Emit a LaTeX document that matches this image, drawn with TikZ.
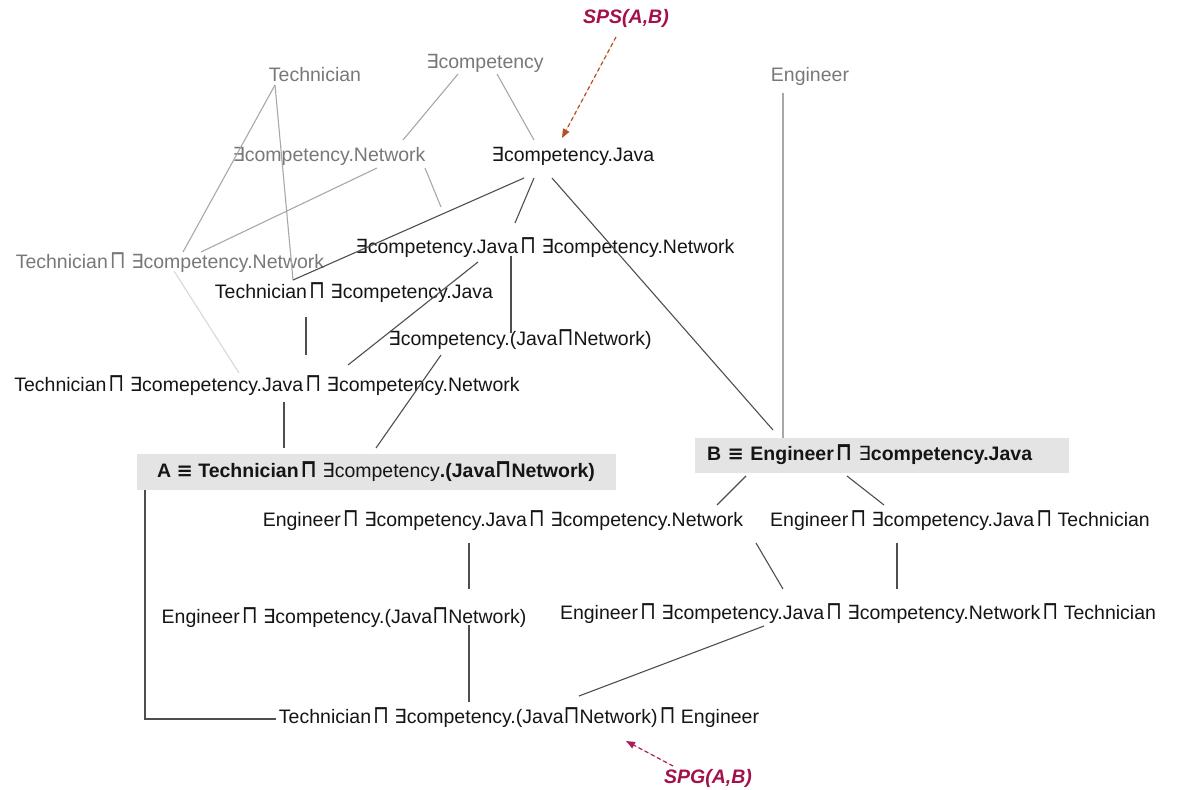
\documentclass[tikz,border=0pt]{standalone}
\usepackage{fontspec}
\usepackage{graphicx}
\setmainfont{Liberation Sans}
\newfontfamily\symf{DejaVu Sans}
\usetikzlibrary{arrows.meta}
\newcommand\Ex{{\symf\mdseries ∃}}
\newcommand\Sq{\raisebox{0pt}{\scalebox{1.05}[1.3]{\symf ⊓}}}
\newcommand\Sqs{\kern2pt\Sq\ }
\newcommand\Eqv{{\symf ≡}}
\definecolor{tgray}{HTML}{787878}
\definecolor{tdark}{HTML}{151515}
\definecolor{lgray}{HTML}{A8A8A8}
\definecolor{llight}{HTML}{D8D8D8}
\definecolor{ldark}{HTML}{4E4E4E}
\definecolor{boxfill}{HTML}{E4E4E4}
\definecolor{spcol}{HTML}{A3104A}
\definecolor{spsarrow}{HTML}{B4501C}
\definecolor{spgarrow}{HTML}{A8205A}
\tikzset{
  lbl/.style={inner sep=0pt, text height=12pt, text depth=0pt, font=\fontsize{19.5}{22}\selectfont},
  gtext/.style={lbl, text=tgray},
  dtext/.style={lbl, text=tdark},
  sptext/.style={lbl, text=spcol, font=\fontsize{19.5}{22}\selectfont\bfseries\itshape},
  defbox/.style={fill=boxfill, inner sep=0pt, text=tdark, font=\fontsize{19.5}{22}\selectfont},
  ge/.style={draw=lgray, line width=1.1pt},
  le/.style={draw=llight, line width=1.1pt},
  de/.style={draw=ldark, line width=1.1pt},
  sparrow/.style={dashed, dash pattern=on 4pt off 3pt, line width=1.2pt, -{Triangle[length=9pt,width=7pt]}}
}
\begin{document}
\begin{tikzpicture}[x=1pt,y=-1pt]
\useasboundingbox (0,0) rectangle (1181,790);
% nodes
\node[sptext] (sps) at (626,17) {SPS(A,B)};
\node[gtext] (tech) at (315,75) {Technician};
\node[gtext] (comp) at (485,62) {\Ex competency};
\node[gtext] (eng) at (810,75) {Engineer};
\node[gtext] (cnet) at (329,155) {\Ex competency.Network};
\node[dtext] (cjava) at (573,155) {\Ex competency.Java};
\node[dtext] (jn) at (545,247) {\Ex competency.Java\Sqs\Ex competency.Network};
\node[gtext] (tnet) at (170,262) {Technician\Sqs\Ex competency.Network};
\node[dtext] (tjava) at (354,292) {Technician\Sqs\Ex competency.Java};
\node[dtext] (cjn) at (520,339) {\Ex competency.(Java\Sq Network)};
\node[dtext] (tjn) at (267,385) {Technician\Sqs\Ex comepetency.Java\Sqs\Ex competency.Network};
\node[defbox, minimum width=479pt, minimum height=36pt] (A) at (376,472)
  {{\bfseries A \Eqv{} Technician\Sqs}\Ex competency{\bfseries.(Java\Sq Network)}};
\node[defbox, minimum width=374pt, minimum height=35pt, text width=350pt, align=left] (B) at (882,455)
  {\bfseries B \Eqv{} Engineer\Sqs\Ex competency.Java};
\node[dtext] (ejn) at (503,520) {Engineer\Sqs\Ex competency.Java\Sqs\Ex competency.Network};
\node[dtext] (ejt) at (960,520) {Engineer\Sqs\Ex competency.Java\Sqs Technician};
\node[dtext] (ecjn) at (344,617) {Engineer\Sqs\Ex competency.(Java\Sq Network)};
\node[dtext] (ejnt) at (858,613) {Engineer\Sqs\Ex competency.Java\Sqs\Ex competency.Network\Sqs Technician};
\node[dtext] (final) at (519,717) {Technician\Sqs\Ex competency.(Java\Sq Network)\Sqs Engineer};
\node[sptext] (spg) at (708,777) {SPG(A,B)};
% connectors
\draw[ge] ([shift={(-40,10)}]tech.center) -- ([shift={(13,-10)}]tnet.center);
\draw[ge] ([shift={(-40,10)}]tech.center) -- ([shift={(-61,-12)}]tjava.center);
\draw[ge] ([shift={(-27,12)}]comp.center) -- ([shift={(74,-15)}]cnet.center);
\draw[ge] ([shift={(12,12)}]comp.center) -- ([shift={(-39,-15)}]cjava.center);
\draw[ge] ([shift={(48,13)}]cnet.center) -- ([shift={(31,-10)}]tnet.center);
\draw[ge] ([shift={(96,13)}]cnet.center) -- ([shift={(-104,-40)}]jn.center);
\draw[de] ([shift={(-49,23)}]cjava.center) -- ([shift={(-61,-12)}]tjava.center);
\draw[de] ([shift={(-39,23)}]cjava.center) -- ([shift={(-30,-24)}]jn.center);
\draw[de] ([shift={(-21,23)}]cjava.center) -- ([shift={(-109,-25)}]B.center);
\draw[ge] ([shift={(-27,18)}]eng.center) -- ([shift={(-99,-17)}]B.center);
\draw[le] ([shift={(4,9)}]tnet.center) -- ([shift={(-28,-12)}]tjn.center);
\draw[de] ([shift={(-48,25)}]tjava.center) -- ([shift={(39,-30)}]tjn.center);
\draw[de] ([shift={(-67,15)}]jn.center) -- ([shift={(81,-20)}]tjn.center);
\draw[de] ([shift={(-34,9)}]jn.center) -- ([shift={(-9,-6)}]cjn.center);
\draw[de] ([shift={(-79,16)}]cjn.center) -- ([shift={(0,-24)}]A.center);
\draw[de] ([shift={(17,17)}]tjn.center) -- ([shift={(-92,-24)}]A.center);
\draw[de] ([shift={(-231,18)}]A.center) |- ([shift={(-243,2)}]final.center);
\draw[de] ([shift={(-136,21)}]B.center) -- ([shift={(214,-15)}]ejn.center);
\draw[de] ([shift={(-35,21)}]B.center) -- ([shift={(-76,-15)}]ejt.center);
\draw[de] ([shift={(-34,23)}]ejn.center) -- ([shift={(125,-28)}]ecjn.center);
\draw[de] ([shift={(125,8)}]ecjn.center) -- ([shift={(-50,-15)}]final.center);
\draw[de] ([shift={(253,23)}]ejn.center) -- ([shift={(-75,-24)}]ejnt.center);
\draw[de] ([shift={(-63,23)}]ejt.center) -- ([shift={(39,-24)}]ejnt.center);
\draw[de] ([shift={(-94,13)}]ejnt.center) -- ([shift={(60,-21)}]final.center);
\draw[sparrow, draw=spsarrow, fill=spsarrow] ([shift={(-10,20)}]sps.center) -- ([shift={(-11,-17)}]cjava.center);
\draw[sparrow, draw=spgarrow, fill=spgarrow] ([shift={(-35,-11)}]spg.center) -- ([shift={(107,24)}]final.center);
\end{tikzpicture}
\end{document}
